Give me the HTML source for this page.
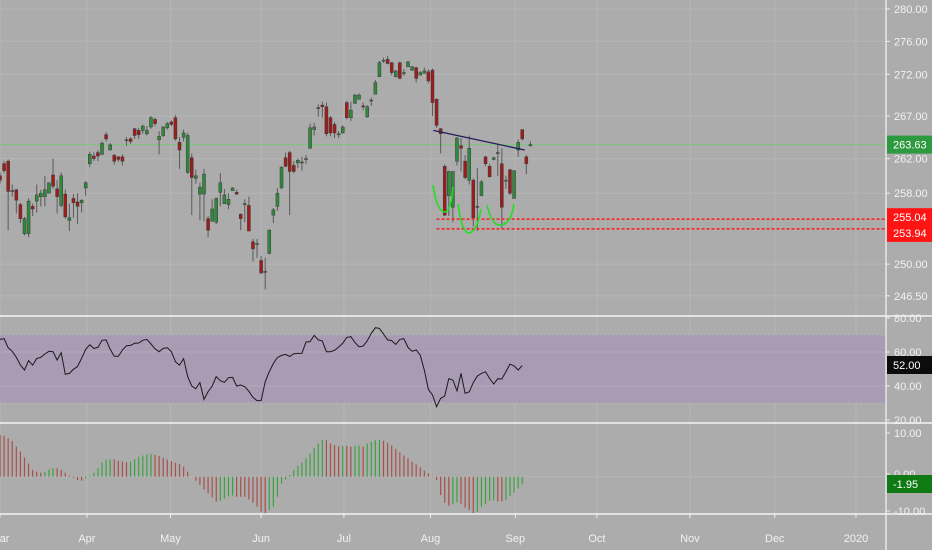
<!DOCTYPE html>
<html><head><meta charset="utf-8"><style>
html,body{margin:0;padding:0;background:#acacac;}
svg{display:block;font-family:"Liberation Sans",sans-serif;}
</style></head><body>
<svg id="c" width="932" height="550" viewBox="0 0 932 550" xmlns="http://www.w3.org/2000/svg">
<rect x="0" y="0" width="932" height="550" fill="#acacac"/>
<g id="grid"></g>
<g id="main"></g>
<g id="rsi"></g>
<g id="hist"></g>
<g id="axes"></g>
</svg>
<script>
const opens=[260.0,261.4,261.7,258.3,258.4,256.7,253.4,253.4,256.5,257.1,257.6,257.6,258.0,260.1,258.5,256.6,257.9,254.9,257.4,257.0,256.9,258.6,261.4,262.3,262.7,262.5,264.8,263.0,262.4,262.2,262.2,264.2,264.3,265.5,265.3,265.3,264.9,265.7,266.6,264.2,264.7,265.6,266.3,266.8,263.9,264.5,260.4,262.1,259.7,257.9,257.9,255.1,254.8,254.7,258.1,256.8,256.7,258.3,258.1,255.6,256.8,256.6,252.5,252.3,250.4,249.2,251.2,255.5,256.5,258.6,262.1,262.7,261.2,261.5,261.6,262.0,263.2,265.4,268.0,268.3,268.1,266.8,266.0,264.9,265.0,268.6,266.8,268.5,269.0,268.2,266.9,268.9,269.6,271.7,273.7,273.8,273.4,271.7,273.4,272.2,272.9,272.5,272.8,271.9,272.1,272.3,272.5,269.0,265.5,261.1,257.7,256.4,261.7,263.5,261.7,259.5,259.5,256.5,257.7,262.2,261.1,261.9,262.7,261.4,259.5,260.7,257.4,263.0,265.4,262.2,263.6];
const closes=[259.5,260.6,258.2,258.3,257.2,255.1,255.1,257.1,256.2,257.8,258.0,258.4,259.2,258.8,257.6,260.0,255.3,255.2,256.9,256.5,257.2,259.2,262.5,262.0,262.3,263.8,264.3,263.6,261.7,261.9,261.7,264.2,264.0,264.7,264.8,265.8,265.3,266.8,266.1,264.6,265.7,266.1,266.0,264.3,263.0,265.0,264.7,259.8,260.0,258.7,260.2,253.8,256.2,257.4,259.2,257.8,257.3,258.6,257.9,255.1,256.8,253.7,251.7,252.3,249.0,249.2,253.8,256.1,258.0,261.0,261.1,260.5,260.5,261.8,261.6,262.0,265.6,265.7,268.0,268.1,264.9,265.0,265.0,264.9,265.7,266.8,267.7,269.5,269.5,268.1,268.1,268.9,271.0,273.4,273.7,273.3,272.2,272.4,271.5,272.2,273.5,272.9,271.5,272.2,272.4,271.2,268.6,265.9,264.9,255.5,260.5,260.5,264.4,263.2,259.8,263.2,255.2,256.5,259.3,261.4,259.9,262.1,262.7,256.4,259.5,258.0,260.6,263.9,264.3,261.4,263.63];
const highs=[260.4,261.7,261.9,259.0,258.5,256.9,255.3,257.4,256.8,259.0,258.4,260.0,259.2,262.0,259.5,260.4,258.4,256.8,257.9,258.0,257.3,259.4,262.8,262.7,263.0,264.0,265.1,263.8,262.5,262.3,262.5,264.5,264.5,265.6,265.6,266.0,265.8,267.0,266.8,265.2,265.8,266.3,266.5,267.1,264.5,265.4,265.0,262.6,260.7,259.2,260.8,255.4,257.3,257.5,260.3,258.5,258.0,258.7,258.4,255.7,257.3,257.6,252.8,252.8,250.9,250.7,253.9,256.3,258.6,261.1,262.7,262.9,261.7,262.0,262.2,262.4,266.1,266.2,268.4,268.7,268.6,267.0,266.3,265.2,265.9,268.8,268.7,269.6,269.7,268.6,268.3,269.2,271.3,273.6,274.0,274.2,273.5,272.5,273.5,272.6,273.6,273.0,272.9,272.4,272.8,272.6,272.7,269.1,265.6,261.3,260.6,260.5,264.5,264.4,262.4,264.7,259.7,260.9,259.5,262.3,261.4,262.2,263.6,263.2,260.0,260.8,260.6,264.2,264.5,262.4,264.0];
const lows=[259.1,260.3,253.8,257.6,255.7,254.6,253.2,253.0,255.4,255.8,256.5,256.5,258.0,258.5,255.7,256.4,255.1,253.7,255.2,254.5,255.8,257.7,261.0,261.7,261.7,262.4,264.0,263.0,261.3,261.6,261.2,263.5,263.7,264.3,264.3,264.9,264.7,265.5,265.8,262.5,264.5,265.4,265.8,264.1,260.8,264.0,260.2,255.5,259.1,254.9,254.8,253.0,256.2,254.5,256.5,257.6,256.2,258.4,257.8,253.8,254.7,253.7,250.3,250.7,249.0,247.2,251.1,254.6,256.0,258.5,261.0,255.5,260.3,260.9,260.6,261.4,265.4,264.7,266.9,266.8,264.6,264.6,264.4,264.4,264.9,266.6,266.4,268.6,269.3,267.7,266.8,268.2,270.8,273.3,273.4,273.2,271.9,271.6,271.4,271.8,273.0,272.4,271.0,272.1,272.2,270.9,267.0,265.6,262.6,255.4,255.4,254.7,261.2,260.5,259.6,259.0,254.2,253.7,259.1,261.1,259.8,261.8,260.0,254.0,258.5,257.8,257.9,262.2,264.1,260.2,263.4];
const rsiValues=[67.4,67.8,62.5,60.4,56.9,52.3,49.4,54.9,52.3,56.1,56.9,58.8,60.4,60.2,55.3,59.6,46.9,47.4,49.8,51.4,56.3,61.6,64.3,62.1,62.7,66.9,67.1,61.6,57.6,57.4,61.2,63.7,63.9,65.1,65.3,66.9,67.4,64.7,61.9,60.2,62.1,62.5,60.2,54.3,52.3,56.1,45.5,40.0,38.4,42.0,32.2,36.7,40.0,45.5,43.1,42.2,44.9,45.1,40.0,40.6,39.6,36.9,33.3,31.4,31.4,42.5,48.4,53.3,56.7,58.0,58.6,57.4,59.0,59.2,59.2,65.9,66.1,69.8,67.1,66.5,60.2,60.2,61.0,62.9,65.1,68.6,69.0,65.5,63.1,63.5,66.5,71.0,74.3,73.9,70.6,67.1,66.7,64.5,67.4,67.8,62.7,60.4,61.2,58.2,49.4,38.0,34.7,27.8,32.7,34.1,44.3,43.5,37.1,47.4,35.7,36.5,42.0,45.9,47.4,48.4,44.5,41.2,44.3,44.1,48.4,52.9,51.8,49.4,52.0];
const histValues=[10.4,10.2,9.6,8.9,7.5,6.3,4.8,3.3,1.7,1.25,1.0,1.25,1.8,2.1,2.1,1.75,1.0,0.3,-0.25,-0.9,-1.0,-0.4,0.25,1.0,2.1,3.5,4.2,4.3,4.3,4.0,3.75,3.6,3.75,4.4,5.0,5.3,5.6,5.7,5.5,5.2,4.75,4.3,3.9,3.5,3.2,2.5,1.25,0,-1.0,-2.0,-3.2,-4.2,-5.2,-6.25,-6.0,-5.5,-4.9,-4.7,-5.0,-5.0,-5.0,-5.7,-6.5,-7.5,-8.75,-9.5,-8.3,-7.5,-5.0,-1.7,-0.7,0.4,1.7,2.7,3.5,4.6,5.8,7.2,8.3,9.2,9.1,8.3,7.9,7.6,7.7,7.7,7.5,7.7,7.8,7.5,8.25,8.7,9.1,9.2,9.0,8.5,7.75,7.0,6.1,5.3,4.6,3.75,3.1,2.3,1.5,0.8,0.1,-0.8,-4.6,-6.5,-7.3,-6.9,-6.4,-6.9,-7.75,-8.3,-9.1,-8.75,-7.5,-6.8,-6.0,-5.9,-6.2,-6.2,-5.8,-4.75,-4.0,-2.9,-1.95];
const priceTicks=[280,276,272,267,262,258,250,246.5];
const monthLabels=["Mar","Apr","May","Jun","Jul","Aug","Sep","Oct","Nov","Dec","2020"];
const monthIndex=[0,21.3,41.8,64,84.3,105.5,126.3,146.3,169.1,189.9,209.8];
const rsiTicks=[80,60,40,20];
const histTicks=[10,0,-10];
const lastPrice=263.63, level1=255.04, level2=253.94, lastRsi=52.00, lastHist=-1.95;
const trendFrom=[106.2,265.3], trendTo=[128.6,263.0];

const NS="http://www.w3.org/2000/svg";
const AX=886;
const xOf=i=>i*4.08;
const yP=p=>9+2251*Math.log(280/p);
const yR=v=>352+(60-v)*1.7;
const yH=v=>476.7-v*4.0;
function mk(parent,tag,attrs){const e=document.createElementNS(NS,tag);for(const k in attrs)e.setAttribute(k,attrs[k]);parent.appendChild(e);return e;}
const grid=document.getElementById('grid'),main=document.getElementById('main'),rsi=document.getElementById('rsi'),hist=document.getElementById('hist'),axes=document.getElementById('axes');

// grid
monthIndex.forEach((m,k)=>{const x=xOf(m);
 const g=mk(grid,'line',{x1:x,x2:x,y1:0,y2:514,stroke:'#b6b6b6','stroke-width':1});
 
 
 const t=mk(axes,'text',{x:x,y:542,fill:'#f2f2f2','font-size':11,'text-anchor':'middle'});t.textContent=monthLabels[k];
 
 
 const tk=mk(axes,'line',{x1:x,x2:x,y1:514,y2:518,stroke:'#eee'});
 
 
});
priceTicks.forEach(p=>{const y=yP(p);
 const g=mk(grid,'line',{x1:0,x2:AX,y1:y,y2:y,stroke:'#b6b6b6'});
 
 
 const tk=mk(axes,'line',{x1:AX,x2:AX+4,y1:y,y2:y,stroke:'#eee'});
 
 
 const t=mk(axes,'text',{x:AX+8,y:y+4,fill:'#f2f2f2','font-size':11});t.textContent=p.toFixed(2);
 
 
});
// rsi band
const band=mk(rsi,'rect',{x:0,y:yR(70),width:AX,height:yR(30)-yR(70),fill:'#a99bb4'});


[70,30].forEach(v=>{const l=mk(rsi,'line',{x1:0,x2:AX,y1:yR(v),y2:yR(v),stroke:'#b9b0c0','stroke-dasharray':'2,2'});
 
 });
[60,40].forEach(v=>{const l=mk(rsi,'line',{x1:0,x2:AX,y1:yR(v),y2:yR(v),stroke:'#b3a8bd'});
 
 });
const hz=mk(hist,'line',{x1:0,x2:AX,y1:yH(0),y2:yH(0),stroke:'#b6b6b6'});



// last price line
const lp=mk(main,'line',{x1:0,x2:AX,y1:yP(lastPrice),y2:yP(lastPrice),stroke:'#7cc47c','stroke-width':1});



// candles
for(let i=0;i<closes.length;i++){
 const x=xOf(i),o=opens[i],c=closes[i],up=c>=o;
 const w=mk(main,'line',{x1:x,x2:x,y1:yP(highs[i]),y2:yP(lows[i]),stroke:'#5a5a5a','stroke-width':1});
 
 
 const top=yP(Math.max(o,c)),bot=yP(Math.min(o,c));
 const b=mk(main,'rect',{x:x-1.5,y:top,width:3,height:Math.max(1,bot-top),fill:up?'#2f8a3b':'#a01c1c',stroke:'#3a3a3a','stroke-width':0.5});
 
 
}
// levels
[level1,level2].forEach(v=>{const l=mk(main,'line',{x1:xOf(107),x2:AX,y1:yP(v),y2:yP(v),stroke:'#ff1a1a','stroke-width':1.5,'stroke-dasharray':'3,2'});
 
 });
// trendline
const tl=mk(main,'line',{x1:xOf(trendFrom[0]),y1:yP(trendFrom[1]),x2:xOf(trendTo[0]),y2:yP(trendTo[1]),stroke:'#1e1e5a','stroke-width':1.3});


// hand-drawn curves
['M433,185 Q437,212 445,212 Q451,211 453,187','M458,204 Q462,233 469,233 Q477,232 481,209','M487,205 Q492,226 500,225 Q511,225 514,204'].forEach(d=>{
 const p=mk(main,'path',{d:d,fill:'none',stroke:'#1fe01f','stroke-width':1.6});
 
 });

// rsi line
let d='';rsiValues.forEach((v,i)=>{d+=(i?'L':'M')+xOf(i).toFixed(1)+','+yR(v).toFixed(1);});
const rl=mk(rsi,'path',{d:d,fill:'none',stroke:'#1a1a1a','stroke-width':1});



// histogram
histValues.forEach((v,i)=>{const prev=i?histValues[i-1]:v;const up=v>prev;
 const b=mk(hist,'line',{x1:xOf(i),x2:xOf(i),y1:yH(0),y2:yH(v),stroke:up?'#3aa340':'#a8504a','stroke-width':1.2});
 
 });

// separators
[316,423,514].forEach(y=>{const l=mk(axes,'line',{x1:0,x2:932,y1:y,y2:y,stroke:'#f4f4f4','stroke-width':1.5});
 
 });
const va=mk(axes,'line',{x1:AX,x2:AX,y1:0,y2:550,stroke:'#f4f4f4','stroke-width':1.2});


rsiTicks.forEach(v=>{const y=yR(v);
 const tk=mk(axes,'line',{x1:AX,x2:AX+4,y1:y,y2:y,stroke:'#eee'});
 
 
 const t=mk(axes,'text',{x:AX+8,y:y+4,fill:'#f2f2f2','font-size':11});t.textContent=v.toFixed(2);
 
 });
histTicks.forEach(v=>{const y=v===0?474:(v>0?433:511);
 const tk=mk(axes,'line',{x1:AX,x2:AX+4,y1:y,y2:y,stroke:'#eee'});
 
 
 const t=mk(axes,'text',{x:AX+8,y:y+4,fill:'#f2f2f2','font-size':11});t.textContent=v.toFixed(2);
 
 });
// clip labels above/below panes
const cover=(y,h)=>{const r=mk(axes,'rect',{x:AX+1,y:y,width:46,height:h,fill:'#acacac'});};
// badges
function badge(y,txt,bg,name){
 const r=mk(axes,'rect',{x:AX+1,y:y-9,width:46,height:18,fill:bg});
 
 
 const t=mk(axes,'text',{x:AX+7,y:y+4,fill:'#fff','font-size':11});t.textContent=txt;
 
 }
badge(yP(lastPrice),lastPrice.toFixed(2),'#2e9a40','last-price-badge');
badge(yP(level1)-2,level1.toFixed(2),'#ff1414','level-badge-1');
badge(yP(level2)+4,level2.toFixed(2),'#ff1414','level-badge-2');
badge(365,lastRsi.toFixed(2),'#0c0c0c','rsi-value-badge');
badge(484,lastHist.toFixed(2),'#0f7a14','oscillator-value-badge');
</script>
</body></html>
